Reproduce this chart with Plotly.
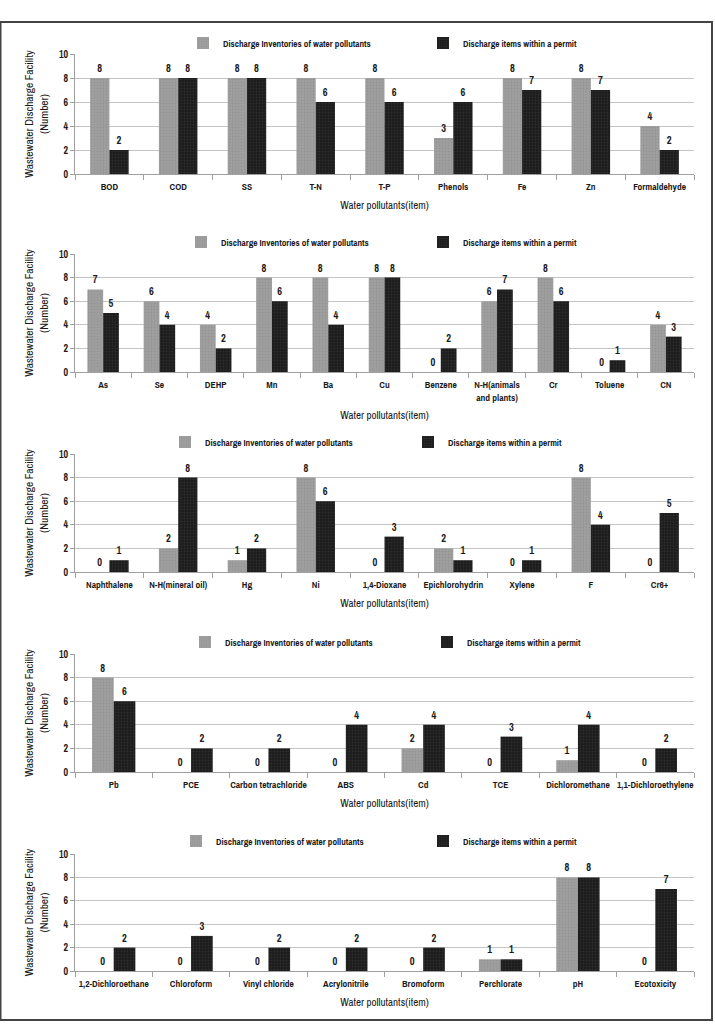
import plotly.graph_objects as go

# ---- data ----
cats1 = ["BOD", "COD", "SS", "T-N", "T-P", "Phenols", "Fe", "Zn", "Formaldehyde"]
inv1 = [8, 8, 8, 8, 8, 3, 8, 8, 4]
perm1 = [2, 8, 8, 6, 6, 6, 7, 7, 2]

cats2 = ["As", "Se", "DEHP", "Mn", "Ba", "Cu", "Benzene", "N-H(animals<br>and plants)", "Cr", "Toluene", "CN"]
inv2 = [7, 6, 4, 8, 8, 8, 0, 6, 8, 0, 4]
perm2 = [5, 4, 2, 6, 4, 8, 2, 7, 6, 1, 3]

cats3 = ["Naphthalene", "N-H(mineral oil)", "Hg", "Ni", "1,4-Dioxane", "Epichlorohydrin", "Xylene", "F", "Cr6+"]
inv3 = [0, 2, 1, 8, 0, 2, 0, 8, 0]
perm3 = [1, 8, 2, 6, 3, 1, 1, 4, 5]

cats4 = ["Pb", "PCE", "Carbon tetrachloride", "ABS", "Cd", "TCE", "Dichloromethane", "1,1-Dichloroethylene"]
inv4 = [8, 0, 0, 0, 2, 0, 1, 0]
perm4 = [6, 2, 2, 4, 4, 3, 4, 2]

cats5 = ["1,2-Dichloroethane", "Chloroform", "Vinyl chloride", "Acrylonitrile", "Bromoform", "Perchlorate", "pH", "Ecotoxicity"]
inv5 = [0, 0, 0, 0, 0, 1, 8, 0]
perm5 = [2, 3, 2, 2, 2, 1, 8, 7]

series_names = ["Discharge Inventories of water pollutants", "Discharge items within a permit"]
y_title = "Wastewater Discharge Facility<br>(Number)"
x_title = "Water pollutants(item)"
y_ticks = [0, 2, 4, 6, 8, 10]

panels = [(cats1, inv1, perm1), (cats2, inv2, perm2), (cats3, inv3, perm3),
          (cats4, inv4, perm4), (cats5, inv5, perm5)]

# ---- layout geometry (pixels) ----
W, H = 715, 1028
FONT = "Archivo Narrow, Liberation Sans Narrow, Barlow Semi Condensed, Arial Narrow, sans-serif"
panel_px = [(54, 174), (254, 372), (454, 572), (654, 772), (854, 971)]
legend_y_px = [44, 243, 443, 643, 842]
legend_sq_gray = [205, 203, 187, 207, 198]
legend_sq_black = [445, 445, 430, 449, 445]
x0_px, x1_px = 75, 694

GRAY = "#a0a0a0"
BLACK = "#1c1c1c"
TXT = "#1a1a1a"

fig = go.Figure()
layout = dict(
    width=W, height=H, margin=dict(l=0, r=0, t=0, b=0),
    paper_bgcolor="white", plot_bgcolor="white",
    bargap=0.44, bargroupgap=0.0, barmode="group",
    font=dict(family=FONT, size=10, color=TXT),
)

for i, (cats, inv, perm) in enumerate(panels):
    n = i + 1
    xa = "x" if n == 1 else f"x{n}"
    ya = "y" if n == 1 else f"y{n}"
    lg = "legend" if n == 1 else f"legend{n}"
    for name, vals, col, dot in [(series_names[0], inv, GRAY, "#868686"),
                                 (series_names[1], perm, BLACK, "#3e3e3e")]:
        fig.add_trace(go.Bar(
            x=cats, y=vals, name=name, xaxis=xa, yaxis=ya, legend=lg,
            marker=dict(color=col, line=dict(width=0),
                        pattern=dict(shape=".", fgcolor=dot, bgcolor=col, size=3, solidity=0.3)),
            text=[str(v) for v in vals], textposition="outside",
            textfont=dict(family=FONT, size=10.5, color=TXT, weight="bold"),
            cliponaxis=False,
        ))
    top, bot = panel_px[i]
    layout[("xaxis" if n == 1 else f"xaxis{n}")] = dict(
        domain=[x0_px / W, x1_px / W], anchor=ya, automargin=False,
        showline=True, linecolor="#a0a0a0", linewidth=1,
        ticks="outside", tickson="boundaries", ticklen=5, tickcolor="#a0a0a0",
        tickangle=0, ticklabelstandoff=4,
        tickfont=dict(family=FONT, size=9.5, color=TXT, weight="bold"),
        title=dict(text=x_title, font=dict(family=FONT, size=11, color=TXT), standoff=8),
        showgrid=False,
    )
    layout[("yaxis" if n == 1 else f"yaxis{n}")] = dict(
        domain=[1 - bot / H, 1 - top / H], anchor=xa, automargin=False,
        range=[0, 10], tickvals=y_ticks,
        showline=True, linecolor="#a0a0a0", linewidth=1,
        ticks="outside", ticklen=4, tickcolor="#a0a0a0",
        showgrid=True, gridcolor="#c4c4c4", gridwidth=1,
        zeroline=False,
        tickfont=dict(family=FONT, size=10, color=TXT, weight="bold"),
        title=dict(text=y_title, font=dict(family=FONT, size=11.5, color=TXT), standoff=7),
    )
    spacing = legend_sq_black[i] - legend_sq_gray[i]
    layout[lg] = dict(
        orientation="h", x=(legend_sq_gray[i] - 22) / W, xanchor="left",
        y=1 - (legend_y_px[i] - 1) / H, yanchor="middle",
        entrywidth=spacing - 45, entrywidthmode="pixels",
        font=dict(family=FONT, size=9.2, color=TXT, weight="bold"),
        bgcolor="rgba(0,0,0,0)", borderwidth=0,
        traceorder="normal",
    )

layout["shapes"] = [dict(type="rect", xref="paper", yref="paper",
                         x0=0.5 / W, x1=712 / W, y0=1 - 1020 / H, y1=1 - 22 / H,
                         line=dict(color="#444", width=2))]
fig.update_layout(**layout)
fig.write_html("out.html")
